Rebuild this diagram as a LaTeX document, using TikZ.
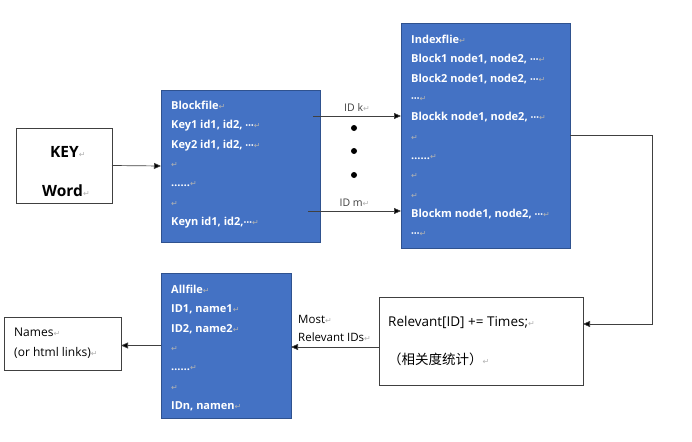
\documentclass[tikz,border=0pt]{standalone}
\usepackage{fontspec}
\setmainfont{Open Sans}
\newfontfamily\cjk{Noto Sans CJK SC}
\newfontfamily\markfont{DejaVu Sans}
\usepackage{xcolor}
\usetikzlibrary{arrows.meta,positioning}

\definecolor{fileblue}{HTML}{4472C4}
\definecolor{fileedge}{HTML}{2F528F}
\definecolor{linegray}{HTML}{404040}
% Word paragraph mark and midline dots
\newcommand{\parmark}{\textcolor{gray!60}{\mdseries\markfont\fontsize{8}{8}\selectfont ↵}}
\newcommand{\middots}{{\markfont\fontsize{8.5}{8.5}\selectfont ⋯}}

\begin{document}
\begin{tikzpicture}[
    x=1pt,
    y=-1pt,
    filebox/.style={draw=fileedge, fill=fileblue, line width=0.8pt, anchor=north west, inner sep=0pt, outer sep=0pt},
    plainbox/.style={draw=linegray, line width=0.6pt, anchor=north west, inner sep=0pt, outer sep=0pt},
    listtext/.style={anchor=north west, inner sep=0pt, align=left, text=white, font=\bfseries\fontsize{11}{19.3}\selectfont},
    conn/.style={-{Triangle[length=7pt,width=6pt,fill=black]}, linegray, line width=0.7pt},
    dot/.style={circle, fill=black, inner sep=0pt, minimum size=6pt}
]
    \useasboundingbox (0,0) rectangle (692,441);

    % Boxes
    \node[plainbox, minimum width=96, minimum height=75] (key) at (16,128) {};
    \node[filebox, minimum width=159, minimum height=152] (block) at (161,90) {};
    \node[filebox, minimum width=169, minimum height=225] (index) at (401,23) {};
    \node[plainbox, minimum width=204, minimum height=88] (rel) at (379,297) {};
    \node[filebox, minimum width=130, minimum height=145] (all) at (161,273) {};
    \node[plainbox, minimum width=117, minimum height=53] (names) at (4,317) {};

    % Texts
    \node[anchor=west, inner sep=0pt, font=\bfseries\fontsize{15.5}{15.5}\selectfont] (keyt) at (50,152) {KEY\parmark};
    \node[anchor=west, inner sep=0pt, font=\bfseries\fontsize{15.5}{15.5}\selectfont] (wordt) at (42,191) {Word\parmark};

    \node[listtext] (blockt) at (171,101) {Blockfile\parmark\\
        Key1 id1, id2, \middots\parmark\\
        Key2 id1, id2, \middots\parmark\\
        \parmark\\
        ……\parmark\\
        \parmark\\
        Keyn id1, id2,\middots\parmark};

    \node[listtext] (indext) at (411,35) {Indexflie\parmark\\
        Block1 node1, node2, \middots\parmark\\
        Block2 node1, node2, \middots\parmark\\
        \middots\parmark\\
        Blockk node1, node2, \middots\parmark\\
        \parmark\\
        ……\parmark\\
        \parmark\\
        \parmark\\
        Blockm node1, node2, \middots\parmark\\
        \middots\parmark};

    \node[listtext] (allt) at (171,285) {Allfile\parmark\\
        ID1, name1\parmark\\
        ID2, name2\parmark\\
        \parmark\\
        ……\parmark\\
        \parmark\\
        IDn, namen\parmark};

    \node[anchor=north west, inner sep=0pt, align=left, font=\fontsize{13.5}{38}\selectfont] (relt) at (388,316) {Relevant[ID] += Times;\parmark\\
        {\cjk\fontsize{13.5}{38}\selectfont （相关度统计）}\parmark};

    \node[anchor=north west, inner sep=0pt, align=left, font=\fontsize{12}{20}\selectfont] (namest) at (14,328) {Names\parmark\\
        (or html links)\parmark};

    % Connectors
    \draw[conn] (key.east) -- (block.west);

    \coordinate (idk) at (313,116);
    \coordinate (idm) at (308,211);
    \draw[conn] (idk) -- (idk -| index.west) node[midway, above=1pt, font=\fontsize{10.5}{10.5}\selectfont] {ID k\parmark};
    \draw[conn] (idm) -- (idm -| index.west) node[midway, above=1pt, font=\fontsize{10.5}{10.5}\selectfont] {ID m\parmark};
    \foreach \y [count=\i] in {128,151,175}
        \node[dot] (dot\i) at (354,\y) {};

    \coordinate (turn) at (652,324);
    \draw[conn] (index.east) -| (turn) -- (turn -| rel.east);

    \coordinate (most) at (379,347);
    \draw[conn] (most) -- (most -| all.east);
    \node[anchor=north west, inner sep=0pt, align=left, font=\fontsize{11.5}{18.5}\selectfont] (mostt) at (298,315) {Most\parmark\\Relevant IDs\parmark};

    \draw[conn] (all.west) -- (all.west -| names.east);
\end{tikzpicture}
\end{document}
